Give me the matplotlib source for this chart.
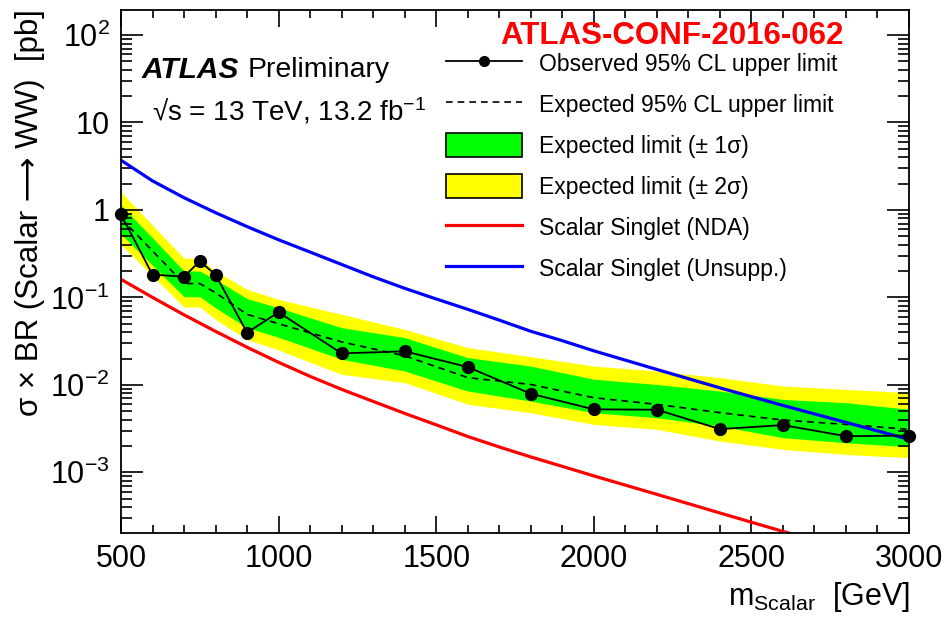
import numpy as np
import matplotlib.pyplot as plt
from matplotlib.lines import Line2D
from matplotlib.patches import Patch
from matplotlib.ticker import FixedLocator, FuncFormatter, LogLocator, MultipleLocator

plt.rcParams['font.family'] = ['Liberation Sans', 'DejaVu Sans']
plt.rcParams['mathtext.fontset'] = 'custom'
plt.rcParams['mathtext.rm'] = 'Liberation Sans'
plt.rcParams['mathtext.it'] = 'Liberation Sans:italic'
plt.rcParams['mathtext.bf'] = 'Liberation Sans:bold'

# limits vs scalar mass [GeV], sigma x BR in pb
mass = [500, 600, 700, 750, 800, 900, 1000, 1200, 1400, 1600, 1800,
        2000, 2200, 2400, 2600, 2800, 3000]
observed = [0.89, 0.182, 0.173, 0.259, 0.182, 0.0396, 0.0676, 0.0229, 0.0242,
            0.0160, 0.00792, 0.00525, 0.0052, 0.00312, 0.00347, 0.00259, 0.00263]
expected = [0.80, 0.34, 0.144, 0.144, 0.113, 0.064, 0.050, 0.031, 0.0215,
            0.0121, 0.0101, 0.00713, 0.00598, 0.00481, 0.00396, 0.00353, 0.0031]
band1_up = [1.13, 0.48, 0.20, 0.20, 0.16, 0.097, 0.076, 0.0451, 0.0347,
            0.0205, 0.0164, 0.0116, 0.0101, 0.0085, 0.00682, 0.00625, 0.00525]
band1_dn = [0.53, 0.233, 0.102, 0.102, 0.076, 0.045, 0.035, 0.0196, 0.0144,
            0.0085, 0.00653, 0.0048, 0.00421, 0.00338, 0.00249, 0.00218, 0.00196]
band2_up = [1.61, 0.67, 0.28, 0.28, 0.20, 0.124, 0.095, 0.064, 0.0431,
            0.0267, 0.021, 0.0164, 0.0144, 0.0121, 0.0097, 0.00888, 0.00814]
band2_dn = [0.40, 0.177, 0.0776, 0.0776, 0.056, 0.033, 0.025, 0.0132, 0.0106,
            0.006, 0.0048, 0.00353, 0.0031, 0.00228, 0.00183, 0.0016, 0.00147]

# scalar singlet predictions
theory_mass = [500, 600, 700, 800, 900, 1000, 1100, 1200, 1300, 1400, 1500, 1600,
               1700, 1800, 1900, 2000, 2200, 2400, 2600, 2800, 3000]
nda = [0.161, 0.100, 0.0632, 0.0409, 0.0269, 0.0181, 0.0125, 0.00888, 0.00647,
       0.00472, 0.00349, 0.00257, 0.00195, 0.0015, 0.00117, 9.1e-4, 5.6e-4,
       3.43e-4, 2.11e-4, 1.31e-4, 8.2e-5]
unsupp = [3.70, 2.15, 1.38, 0.93, 0.645, 0.456, 0.33, 0.238, 0.172, 0.127, 0.096,
          0.0731, 0.055, 0.041, 0.032, 0.0245, 0.0150, 0.00924, 0.00582, 0.00372,
          0.00238]

fig = plt.figure(figsize=(9.46, 6.2), dpi=100)
ax = fig.add_axes([0.1279, 0.1408, 0.8330, 0.8436])

ax.fill_between(mass, band2_dn, band2_up, color='#ffff00', lw=0)
ax.fill_between(mass, band1_dn, band1_up, color='#00ff00', lw=0)
ax.plot(mass, expected, 'k--', lw=1.2, dashes=(4, 3))
ax.plot(theory_mass, nda, color='#ff0000', lw=2.3)
ax.plot(theory_mass, unsupp, color='#0000ff', lw=2.3)
ax.plot(mass, observed, 'k-', lw=1.3, marker='o', ms=8.5, clip_on=False, zorder=5)

ax.set_yscale('log')
ax.set_xlim(500, 3000)
ax.set_ylim(2.04e-4, 195)

ax.xaxis.set_major_locator(MultipleLocator(500))
ax.xaxis.set_minor_locator(MultipleLocator(100))
ax.yaxis.set_major_locator(FixedLocator([1e-3, 1e-2, 1e-1, 1, 10, 100]))
ax.yaxis.set_minor_locator(LogLocator(base=10, subs=np.arange(2, 10)))


def decade_label(v, pos):
    e = int(round(np.log10(v)))
    if e == 0:
        return '1'
    if e == 1:
        return '10'
    return r'$10^{%d}$' % e


ax.yaxis.set_major_formatter(FuncFormatter(decade_label))
ax.yaxis.set_minor_formatter(FuncFormatter(lambda v, p: ''))

ax.tick_params(which='both', direction='in', top=True, right=True, width=1.2,
               labelsize=22)
ax.tick_params(axis='x', which='major', length=12, pad=8)
ax.tick_params(axis='x', which='minor', length=6)
ax.tick_params(axis='y', which='major', length=16, pad=8)
ax.tick_params(axis='y', which='minor', length=8)
for s in ax.spines.values():
    s.set_linewidth(1.3)

fig.text(30 / 946, 1 - 9 / 620, 'σ × BR (Scalar ⟶ WW)  [pb]', rotation=90,
         ha='center', va='top', fontsize=22.5)
fig.text(910 / 946, 1 - 597 / 620, r'm$_{\mathrm{Scalar}}$  [GeV]',
         ha='right', va='center', fontsize=22)

fig.text(672 / 946, 1 - 36 / 620, 'ATLAS-CONF-2016-062', color='#ff0000',
         fontweight='bold', ha='center', va='center', fontsize=22.5)
fig.text(142 / 946, 1 - 70 / 620, 'ATLAS', fontweight='bold', fontstyle='italic',
         ha='left', va='center', fontsize=21.5)
fig.text(248 / 946, 1 - 70 / 620, 'Preliminary', ha='left', va='center',
         fontsize=20.5)
fig.text(152 / 946, 1 - 111 / 620, '√s = 13 TeV, 13.2 fb$^{-1}$', ha='left',
         va='center', fontsize=20)

handles = [
    Line2D([], [], color='k', lw=1.3, marker='o', ms=7),
    Line2D([], [], color='k', lw=1.2, ls='--', dashes=(4, 3)),
    Patch(facecolor='#00ff00', edgecolor='black', lw=1.2),
    Patch(facecolor='#ffff00', edgecolor='black', lw=1.2),
    Line2D([], [], color='#ff0000', lw=2.3),
    Line2D([], [], color='#0000ff', lw=2.3),
]
labels = [
    'Observed 95% CL upper limit',
    'Expected 95% CL upper limit',
    'Expected limit (± 1σ)',
    'Expected limit (± 2σ)',
    'Scalar Singlet (NDA)',
    'Scalar Singlet (Unsupp.)',
]
fig.legend(handles, labels, loc='upper left',
           bbox_to_anchor=(446 / 946, 1 - 51 / 620), frameon=False,
           fontsize=16.5, handlelength=3.3, handleheight=1.22,
           labelspacing=0.72, handletextpad=0.74, borderpad=0, borderaxespad=0)

fig.savefig('out.png', dpi=100)
